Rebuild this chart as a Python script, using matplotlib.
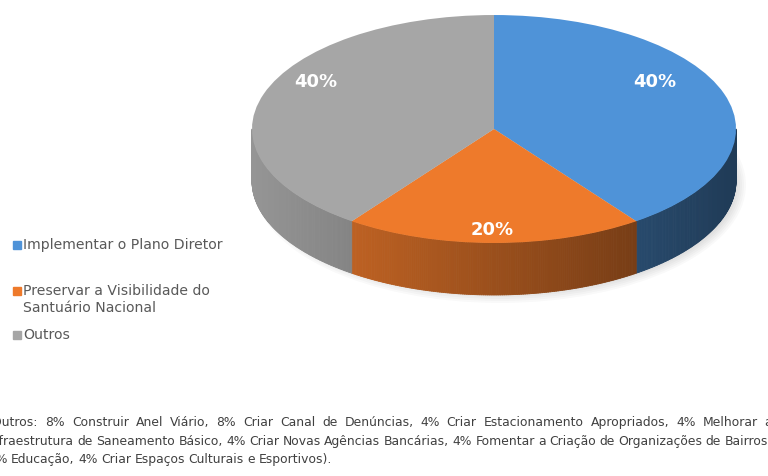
import numpy as np
import matplotlib.pyplot as plt
from matplotlib.transforms import Affine2D
from matplotlib.collections import PolyCollection
from matplotlib.patches import Rectangle, Ellipse
from matplotlib.colors import to_rgb

# ---------- dados ----------
labels = ["Implementar o Plano Diretor",
          "Preservar a Visibilidade do\nSantuário Nacional",
          "Outros"]
values = [40, 20, 40]
top_colors = ["#4f93d8", "#ee7a2b", "#a6a6a6"]

note_lines = [
    "(Outros: 8% Construir Anel Viário, 8% Criar Canal de Denúncias, 4% Criar Estacionamento Apropriados, 4% Melhorar a",
    "Infraestrutura de Saneamento Básico, 4% Criar Novas Agências Bancárias, 4% Fomentar a Criação de Organizações de Bairros,",
    "4% Educação, 4% Criar Espaços Culturais e Esportivos).",
]

# ---------- layout (pixels) ----------
W, H = 768, 476
cx, cy = 494, 347          # centro da pizza
r = 242
tilt = 0.471               # achatamento da elipse
depth = 52                 # espessura lateral

pct_pos = [(655, 394), (492, 246), (316, 394)]
legend_y = [231, 185, 141]
note_y = [50, 31, 13]
note_x0, note_x1 = -12, 772
legend_w = 199             # largura do 1º item da legenda
tight_gap = 3.6            # espaço entre palavras (linhas sem justificar)

fig = plt.figure(figsize=(W / 100, H / 100), dpi=100)
ax = fig.add_axes([0, 0, 1, 1])

wedges, _ = ax.pie(values, colors=top_colors, startangle=90, counterclock=False,
                   center=(cx, cy), radius=r)

squash = Affine2D().translate(-cx, -cy).scale(1, tilt).translate(cx, cy) + ax.transData
for w in wedges:
    w.set_transform(squash)
    w.set_zorder(3)
    w.set_edgecolor("none")

# ---------- lateral 3D ----------
def shade(col, x):
    t = (x - (cx - r)) / (2 * r)
    f = 0.9 - 0.5 * t
    return tuple(np.clip(np.array(to_rgb(col)) * f, 0, 1))

polys, cols = [], []
for w, col in zip(wedges, top_colors):
    ang = np.arange(w.theta1, w.theta2 + 0.01, 0.5)
    ang = ang[np.sin(np.radians(ang)) <= 0.001]
    for a0, a1 in zip(ang[:-1], ang[1:]):
        x0, x1 = cx + r * np.cos(np.radians([a0, a1]))
        y0, y1 = cy + r * tilt * np.sin(np.radians([a0, a1]))
        polys.append([(x0, y0), (x1, y1), (x1, y1 - depth), (x0, y0 - depth)])
        cols.append(shade(col, (x0 + x1) / 2))
side = PolyCollection(polys, facecolors=cols, edgecolors=cols, linewidths=0.6, zorder=2)
ax.add_collection(side)

# sombra suave
for k in range(6):
    ax.add_patch(Ellipse((cx + 6, cy - depth - 4), 2 * r + 8 - k * 4,
                         2 * r * tilt + 8 - k * 4, color="#000000",
                         alpha=0.025, zorder=1, lw=0))

# ---------- rótulos ----------
total = sum(values)
for v, (px, py) in zip(values, pct_pos):
    ax.text(px, py, f"{v / total:.0%}", color="white", fontsize=13,
            fontweight="bold", family="DejaVu Sans", ha="center", va="center", zorder=5)

fig.canvas.draw()
renderer = fig.canvas.get_renderer()

def text_w(text, fs, family="DejaVu Sans"):
    t = ax.text(0, 0, text, fontsize=fs, family=family)
    wpx = t.get_window_extent(renderer).width
    t.remove()
    return wpx

# ---------- legenda ----------
leg_fs = 10 * legend_w / text_w(labels[0], 10)
for lab, col, ly in zip(labels, top_colors, legend_y):
    ax.add_patch(Rectangle((13, ly - 4), 8, 8, color=col, zorder=4))
    for j, part in enumerate(lab.split("\n")):
        ax.text(23, ly - 17 * j, part, color="#595959", fontsize=leg_fs,
                family="DejaVu Sans", ha="left", va="center", zorder=4)

# ---------- nota ----------
w2 = note_lines[1].split(" ")
words_w = sum(text_w(wd, 10) for wd in w2)
note_fs = 10 * (note_x1 - note_x0 - tight_gap * (len(w2) - 1)) / words_w
for i, (line, ny) in enumerate(zip(note_lines, note_y)):
    kw = dict(color="#404040", fontsize=note_fs, family="DejaVu Sans",
              va="baseline", ha="left")
    words = line.split(" ")
    ts = [ax.text(0, ny, wd, **kw) for wd in words]
    widths = [t.get_window_extent(renderer).width for t in ts]
    if i == len(note_lines) - 1:
        gap = tight_gap
    else:
        gap = (note_x1 - note_x0 - sum(widths)) / (len(words) - 1)
    x = note_x0
    for t, wd in zip(ts, widths):
        t.set_x(x)
        x += wd + gap

ax.set_xlim(0, W)
ax.set_ylim(0, H)
ax.set_aspect("auto")
ax.axis("off")

fig.savefig("out.png", dpi=100)
